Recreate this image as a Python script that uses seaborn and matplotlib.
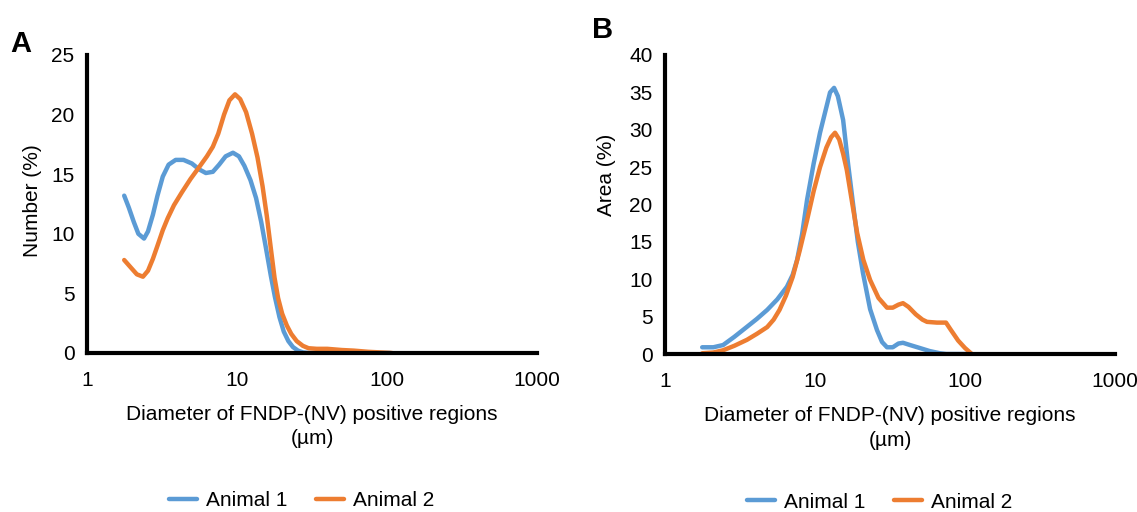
import pandas as pd
import matplotlib
matplotlib.use("Agg")
import matplotlib.pyplot as plt
import seaborn as sns
from matplotlib.ticker import FixedLocator, FixedFormatter, NullLocator

# === DATA ===
# Panel A - Number (%)
a1_diam = [1.77, 1.9, 2.05, 2.2, 2.4, 2.55, 2.75, 2.95, 3.2, 3.5, 3.9, 4.4, 5.0, 5.6, 6.2,
           6.9, 7.6, 8.4, 9.4, 10.3, 11.2, 12.3, 13.4, 14.5, 15.6, 16.8, 17.9, 19.2, 20.5,
           22, 23.6, 25.5, 27.5, 30, 105]
a1_val = [13.2, 12.2, 11.0, 10.0, 9.6, 10.2, 11.6, 13.2, 14.8, 15.8, 16.2, 16.2, 15.9, 15.4, 15.1,
          15.2, 15.8, 16.5, 16.8, 16.5, 15.7, 14.5, 13.0, 11.0, 8.8, 6.5, 4.7, 3.0, 1.8,
          1.0, 0.5, 0.2, 0.05, 0.0, 0.0]

a2_diam = [1.77, 1.95, 2.15, 2.36, 2.55, 2.75, 2.95, 3.2, 3.45, 3.8, 4.3, 4.9, 5.6, 6.3, 6.9,
           7.5, 8.2, 8.9, 9.7, 10.5, 11.5, 12.6, 13.7, 14.8, 15.8, 16.8, 17.8, 18.8, 20,
           21.5, 23, 25, 27.5, 30, 34, 40, 50, 60, 75, 90, 108]
a2_val = [7.8, 7.2, 6.6, 6.4, 6.9, 7.9, 9.0, 10.3, 11.3, 12.4, 13.5, 14.6, 15.6, 16.5, 17.3,
          18.4, 20.0, 21.2, 21.7, 21.3, 20.2, 18.4, 16.4, 14.0, 11.5, 8.8, 6.3, 4.6, 3.3,
          2.3, 1.6, 1.0, 0.6, 0.4, 0.35, 0.35, 0.25, 0.2, 0.1, 0.05, 0.0]

# Panel B - Area (%)
b1_diam = [1.77, 2.1, 2.44, 2.9, 3.5, 4.1, 4.8, 5.6, 6.5, 7.1, 7.6, 8.2, 8.85, 9.8, 10.8,
           11.9, 12.6, 13.4, 14.2, 15.4, 16.6, 17.9, 19.3, 20.9, 23.3, 25.9, 28, 30.2, 33,
           36, 38.6, 43, 50, 58, 68, 75, 111]
b1_val = [0.9, 0.9, 1.2, 2.3, 3.6, 4.7, 5.9, 7.3, 9.0, 10.6, 12.6, 16.0, 20.6, 25.5, 29.6,
          33.0, 35.0, 35.6, 34.5, 31.3, 25.5, 20.2, 15.0, 10.8, 6.0, 3.2, 1.6, 0.9, 0.9,
          1.4, 1.5, 1.2, 0.8, 0.4, 0.1, 0.0, 0.0]

b2_diam = [1.77, 2.1, 2.44, 2.9, 3.52, 4.1, 4.8, 5.3, 5.8, 6.4, 7.1, 7.9, 8.85, 9.8, 10.8,
           11.9, 12.8, 13.6, 14.5, 15.4, 16.3, 17.6, 19.1, 21, 23.3, 26.5, 30.2, 33, 36,
           38.6, 42, 47, 52, 55.8, 65, 74.7, 80, 90, 100, 111]
b2_val = [0.1, 0.2, 0.5, 1.1, 1.9, 2.7, 3.6, 4.6, 5.9, 7.8, 10.3, 13.8, 17.9, 21.8, 25.0,
          27.6, 29.0, 29.6, 28.7, 26.8, 24.6, 20.5, 16.2, 12.6, 9.9, 7.5, 6.2, 6.2, 6.6,
          6.8, 6.3, 5.3, 4.6, 4.3, 4.2, 4.2, 3.3, 1.8, 0.8, 0.0]

series_names = ["Animal 1", "Animal 2"]
x_ticks = [1, 10, 100, 1000]
x_labels = ["1", "10", "100", "1000"]


def long_table(d1, v1, d2, v2):
    t1 = pd.DataFrame({"Diameter": d1, "Value": v1, "Animal": series_names[0]})
    t2 = pd.DataFrame({"Diameter": d2, "Value": v2, "Animal": series_names[1]})
    return pd.concat([t1, t2], ignore_index=True)


df_a = long_table(a1_diam, a1_val, a2_diam, a2_val)
df_b = long_table(b1_diam, b1_val, b2_diam, b2_val)

# === STYLE ===
sns.set_style("white")
plt.rcParams["font.family"] = ["Liberation Sans", "DejaVu Sans"]
plt.rcParams["text.color"] = "black"
plt.rcParams["axes.labelcolor"] = "black"
colores = {"Animal 1": "#5B9BD5", "Animal 2": "#ED7D31"}
fs = 15

fig = plt.figure(figsize=(11.37, 5.12), dpi=100)
ax_a = fig.add_axes([87 / 1137, 159 / 512, 450 / 1137, 298 / 512])
ax_b = fig.add_axes([665 / 1137, 158 / 512, 450 / 1137, 299 / 512])


def dibujar(ax, df, ymax, ystep, ylabel, ylab_x, ylab_y):
    sns.lineplot(data=df, x="Diameter", y="Value", hue="Animal", palette=colores,
                 sort=False, estimator=None, linewidth=3.2, ax=ax)
    ax.set_xscale("log")
    ax.set_xlim(1, 1000)
    ax.set_ylim(0, ymax)
    ax.xaxis.set_major_locator(FixedLocator(x_ticks))
    ax.xaxis.set_major_formatter(FixedFormatter(x_labels))
    ax.xaxis.set_minor_locator(NullLocator())
    ax.set_yticks(list(range(0, ymax + 1, ystep)))
    ax.tick_params(axis="both", length=0, labelsize=fs, colors="black")
    ax.tick_params(axis="x", pad=13)
    ax.tick_params(axis="y", pad=9)
    for s in ["top", "right"]:
        ax.spines[s].set_visible(False)
    for s in ["left", "bottom"]:
        ax.spines[s].set_linewidth(3)
        ax.spines[s].set_color("black")
    ax.set_xlabel("Diameter of FNDP-(NV) positive regions\n(µm)", fontsize=fs, linespacing=1.35)
    ax.xaxis.set_label_coords(0.5, -0.175)
    ax.set_ylabel(ylabel, fontsize=fs)
    ax.yaxis.set_label_coords(ylab_x, ylab_y)
    ax.legend(loc="center", bbox_to_anchor=(0.477, -0.495), ncol=2, frameon=False,
              fontsize=fs, handlelength=1.35, columnspacing=1.4, handletextpad=0.4)
    ax.set_zorder(1)


dibujar(ax_a, df_a, 25, 5, "Number (%)", -0.10, 0.51)
dibujar(ax_b, df_b, 40, 5, "Area (%)", -0.11, 0.6)

fig.text(10 / 1137, 1 - 52 / 512, "A", fontsize=21, fontweight="bold", va="baseline")
fig.text(592 / 1137, 1 - 38 / 512, "B", fontsize=21, fontweight="bold", va="baseline")

plt.savefig("out.png", dpi=100)
